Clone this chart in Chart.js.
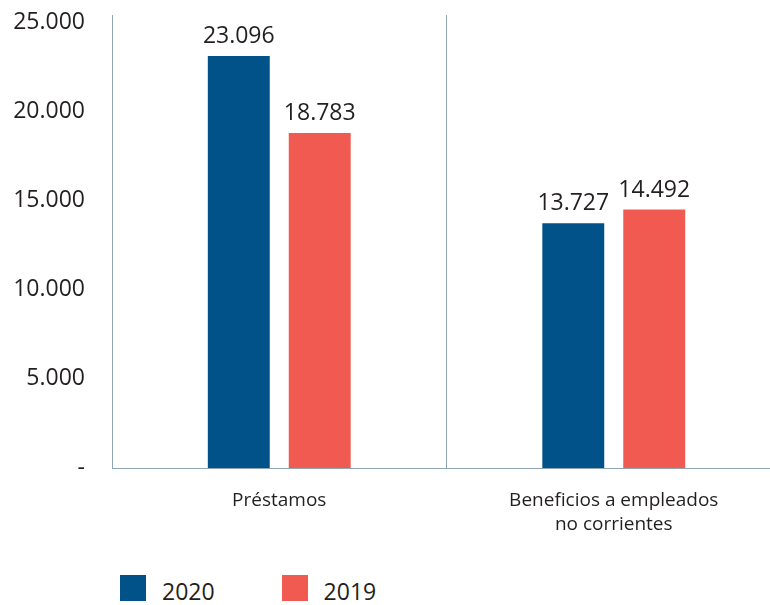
<!DOCTYPE html>
<html>
<head>
<meta charset="utf-8">
<script src="https://cdn.jsdelivr.net/npm/chart.js@4.4.1/dist/chart.umd.min.js"></script>
<style>
  html, body { margin: 0; padding: 0; background: #fff; overflow: hidden; }
  #wrap { position: relative; width: 770px; height: 605px; overflow: hidden; }
  #box { position: absolute; left: 0; top: 0; width: 781px; height: 545px; }
  #legend { position: absolute; left: 120px; top: 575px; display: flex; align-items: center;
            font-family: "Open Sans", sans-serif; font-size: 23px; color: #231f20; }
  #legend .item { display: flex; align-items: center; margin-right: 67px; }
  #legend .swatch { width: 26px; height: 26px; margin-right: 16px; }
  #legend .txt { position: relative; top: 3px; line-height: 26px; }
</style>
</head>
<body>
<div id="wrap">
  <div id="box"><canvas id="balanceChart"></canvas></div>
  <div id="legend"></div>
</div>
<script>
const categories = [["Préstamos"], ["Beneficios a empleados", "no corrientes"]];
const seriesNames = ["2020", "2019"];
const values2020 = [23096, 13727];
const values2019 = [18783, 14492];
const yTicks = [0, 5000, 10000, 15000, 20000, 25000];
const yMax = 25400;

const seriesColors = ["#02528a", "#f05a50"];
const textColor = "#231f20";
const axisColor = "#8fa5b8";

function fmt(n) {
  if (n === 0) return "-";
  return String(n).replace(/\B(?=(\d{3})+(?!\d))/g, ".");
}

// values above each bar
const valueLabels = {
  id: "valueLabels",
  afterDatasetsDraw(chart) {
    const ctx = chart.ctx;
    ctx.save();
    ctx.font = "23px 'Open Sans'";
    ctx.fillStyle = textColor;
    ctx.textAlign = "center";
    ctx.textBaseline = "alphabetic";
    chart.data.datasets.forEach((ds, i) => {
      chart.getDatasetMeta(i).data.forEach((bar, j) => {
        ctx.fillText(fmt(ds.data[j]), bar.x, bar.y - 13);
      });
    });
    ctx.restore();
  },
};

const chart = new Chart(document.getElementById("balanceChart"), {
  type: "bar",
  data: {
    labels: categories,
    datasets: [
      { label: seriesNames[0], data: values2020, backgroundColor: seriesColors[0] },
      { label: seriesNames[1], data: values2019, backgroundColor: seriesColors[1] },
    ],
  },
  options: {
    responsive: true,
    maintainAspectRatio: false,
    animation: false,
    categoryPercentage: 0.484,
    barPercentage: 0.765,
    layout: { padding: { top: 15, left: 0, right: 0, bottom: 0 } },
    plugins: {
      legend: { display: false },
      tooltip: { enabled: false },
    },
    scales: {
      x: {
        grid: {
          color: (c) => (c.index === 1 ? axisColor : "rgba(0,0,0,0)"),
          drawTicks: false,
          lineWidth: 1,
        },
        border: { color: axisColor, width: 1 },
        ticks: {
          color: textColor,
          padding: 21,
          maxRotation: 0,
          font: { family: "Open Sans", size: 19, lineHeight: 1.263 },
        },
        afterFit: (scale) => { scale.height = 77; },
      },
      y: {
        min: 0,
        max: yMax,
        grid: { display: false, drawTicks: false },
        border: { color: axisColor, width: 1 },
        afterBuildTicks: (axis) => { axis.ticks = yTicks.map((v) => ({ value: v })); },
        ticks: {
          color: textColor,
          padding: 27,
          font: { family: "Open Sans", size: 23 },
          callback: (v) => fmt(v),
        },
        afterFit: (scale) => {
          scale.width = 112;
          scale.paddingTop = 0;
          scale.paddingBottom = 0;
        },
      },
    },
  },
  plugins: [valueLabels],
});

// legend as html below the chart
const legend = document.getElementById("legend");
seriesNames.forEach((name, i) => {
  const item = document.createElement("div");
  item.className = "item";
  const sw = document.createElement("span");
  sw.className = "swatch";
  sw.style.background = seriesColors[i];
  const t = document.createElement("span");
  t.className = "txt";
  t.textContent = name;
  item.appendChild(sw);
  item.appendChild(t);
  legend.appendChild(item);
});
</script>
</body>
</html>
